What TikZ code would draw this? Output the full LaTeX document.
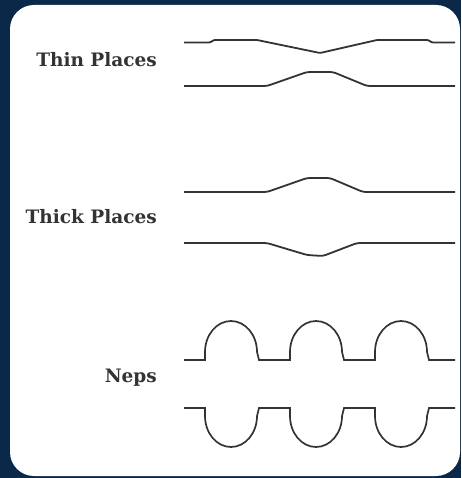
\documentclass[tikz,border=0pt]{standalone}
\usepackage{fontspec}
\setmainfont{DejaVu Serif}
\definecolor{navy}{HTML}{0A2848}
\definecolor{ink}{HTML}{333333}
\tikzset{
  caption/.style={anchor=base east,inner sep=0pt,text=ink,font=\fontsize{18.5}{22}\selectfont\bfseries},
  yarn/.style={draw=ink,line width=1.8pt,rounded corners=3pt},
  nep/.style={draw=ink,line width=1.7pt},
}
\begin{document}
\begin{tikzpicture}[x=1pt,y=-1pt]
\path[use as bounding box,fill=navy] (0,0) rectangle (461,478);
\fill[white,rounded corners=24pt] (10,5) rectangle (460,476);
% thin places
\node[caption] (thin) at (157,67) {Thin Places};
\draw[yarn,rounded corners=1pt] (184,42.5) -- (210,42.5) -- (214,40) -- (257,40) -- (320,53) -- (377,40) -- (428,40) -- (432,42.5) -- (455,42.5);
\draw[yarn] (184,86) -- (267,86) -- (307,72) -- (333,72) -- (367,86) -- (455,86);
% thick places
\node[caption] (thick) at (157,223) {Thick Places};
\draw[yarn] (184,192) -- (267,192) -- (307,178) -- (330,178) -- (363,192) -- (455,192);
\draw[yarn] (184,243) -- (267,243) -- (307,255) -- (323,256) -- (357,243) -- (455,243);
% neps
\node[caption] (neps) at (157,382) {Neps};
\draw[nep] (184,360)
  \foreach \x in {205,290,375} {
    -- (\x,360) -- (\x,352) arc[start angle=180,end angle=360,x radius=26,y radius=31] -- (\x+54,360)
  } -- (455,360);
\draw[nep] (184,408)
  \foreach \x in {205,290,375} {
    -- (\x,408) -- (\x,416) arc[start angle=180,end angle=0,x radius=26,y radius=31] -- (\x+54,408)
  } -- (455,408);
\end{tikzpicture}
\end{document}
